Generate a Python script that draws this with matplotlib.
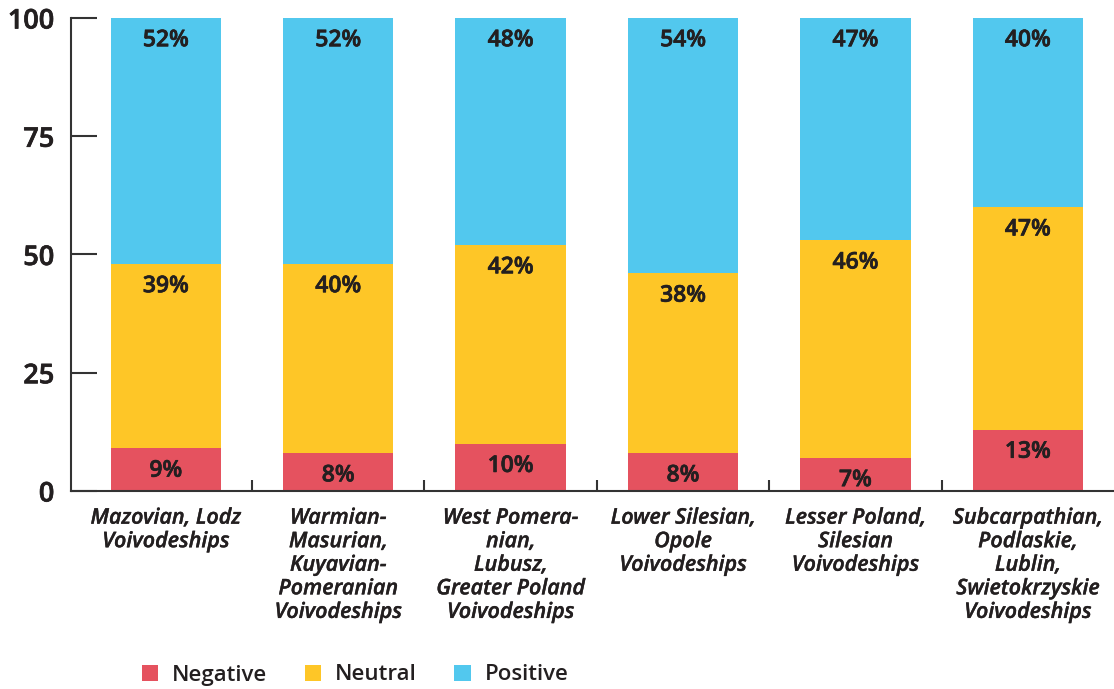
import matplotlib
matplotlib.use("Agg")
import matplotlib.pyplot as plt
import matplotlib.patheffects as pe
import numpy as np
from matplotlib.patches import Patch

categories = [
    "Mazovian, Lodz\nVoivodeships",
    "Warmian-\nMasurian,\nKuyavian-\nPomeranian\nVoivodeships",
    "West Pomera-\nnian,\nLubusz,\nGreater Poland\nVoivodeships",
    "Lower Silesian,\nOpole\nVoivodeships",
    "Lesser Poland,\nSilesian\nVoivodeships",
    "Subcarpathian,\nPodlaskie,\nLublin,\nSwietokrzyskie\nVoivodeships",
]
negative = [9, 8, 10, 8, 7, 13]
neutral = [39, 40, 42, 38, 46, 47]
positive = [52, 52, 48, 54, 47, 40]
series_names = ["Negative", "Neutral", "Positive"]
colors = ["#E5525F", "#FEC627", "#52C8EE"]
yticks = [0, 25, 50, 75, 100]

plt.rcParams['font.family'] = ['Open Sans', 'DejaVu Sans']
text_color = "#231F20"
W = "semibold"
thick = [pe.withStroke(linewidth=0.5, foreground=text_color)]

fig = plt.figure(figsize=(11.14, 6.89), dpi=100)
ax = fig.add_axes([71/1114, 198/689, 1 - 71/1114, (491-18)/689])

x = np.arange(len(categories))
w = 0.64
bottom = np.zeros(len(categories))
for vals, col in zip([negative, neutral, positive], colors):
    vals = np.array(vals)
    ax.bar(x, vals, w, bottom=bottom, color=col, linewidth=0, zorder=2)
    for xi, b, v in zip(x, bottom, vals):
        ax.annotate(f"{v}%", (xi, b + v), xytext=(0, -16), textcoords="offset points",
                    ha="center", va="center", fontsize=16.5, fontweight=W,
                    color=text_color, zorder=3, path_effects=thick)
    bottom = bottom + vals

ax.set_xlim(-0.55, 5.5)
ax.set_ylim(0, 100)
ax.set_yticks(yticks)
ax.set_yticklabels([str(t) for t in yticks], fontsize=19.5, fontweight=W, color=text_color,
                   path_effects=thick)
ax.tick_params(axis='y', direction='in', length=19, width=1.5, color="#333333", pad=12)

ax.set_xticks(x)
ax.set_xticklabels(categories, fontsize=15.5, fontstyle="italic", fontweight=W,
                   color=text_color, linespacing=1.16, va="top",
                   path_effects=[pe.withStroke(linewidth=0.25, foreground=text_color)])
ax.tick_params(axis='x', length=0, pad=12)
ax.set_xticks(x[:-1] + 0.5, minor=True)
ax.tick_params(axis='x', which='minor', direction='in', length=8, width=1.5, color="#333333")

for s in ["top", "right"]:
    ax.spines[s].set_visible(False)
for s in ["left", "bottom"]:
    ax.spines[s].set_linewidth(1.5)
    ax.spines[s].set_color("#333333")

handles = [Patch(facecolor=c, edgecolor='none') for c in colors]
leg = fig.legend(handles, series_names, loc="center", bbox_to_anchor=(355/1114, 1 - 675/689),
                 ncol=3, frameon=False, fontsize=16, handlelength=0.75, handleheight=0.75,
                 handletextpad=0.6, columnspacing=1.7)
for t in leg.get_texts():
    t.set_color(text_color)
    t.set_fontweight(W)

fig.savefig("out.png", dpi=100)
